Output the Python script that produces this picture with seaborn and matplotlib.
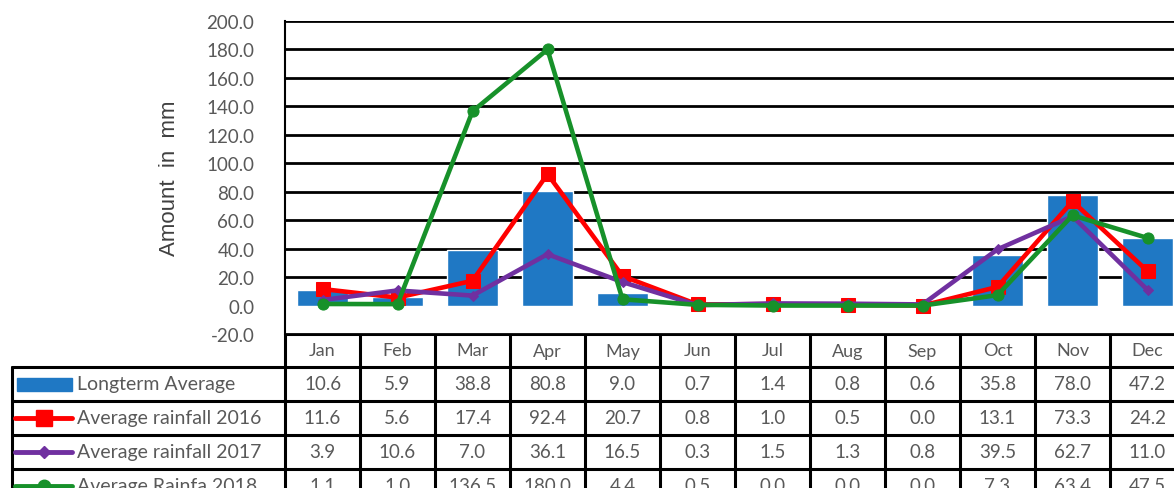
import numpy as np
import pandas as pd
import matplotlib
matplotlib.use("Agg")
import matplotlib.pyplot as plt
from matplotlib.ticker import MultipleLocator
from matplotlib.lines import Line2D
from matplotlib.patches import Rectangle
import seaborn as sns

# ---- data ----
months = ["Jan", "Feb", "Mar", "Apr", "May", "Jun", "Jul", "Aug", "Sep", "Oct", "Nov", "Dec"]
longterm = [10.6, 5.9, 38.8, 80.8, 9.0, 0.7, 1.4, 0.8, 0.6, 35.8, 78.0, 47.2]
rain_2016 = [11.6, 5.6, 17.4, 92.4, 20.7, 0.8, 1.0, 0.5, 0.0, 13.1, 73.3, 24.2]
rain_2017 = [3.9, 10.6, 7.0, 36.1, 16.5, 0.3, 1.5, 1.3, 0.8, 39.5, 62.7, 11.0]
rain_2018 = [1.1, 1.0, 136.5, 180.0, 4.4, 0.5, 0.0, 0.0, 0.0, 7.3, 63.4, 47.5]
series_names = ["Longterm Average", "Average rainfall 2016",
                "Average rainfall 2017", "Average Rainfa 2018"]
y_ticks = [-20, 0, 20, 40, 60, 80, 100, 120, 140, 160, 180, 200]

df = pd.DataFrame({
    "pos": np.arange(len(months)),
    "month": months,
    "longterm": longterm,
    "r2016": rain_2016,
    "r2017": rain_2017,
    "r2018": rain_2018,
})

BLUE = "#1f78c4"
RED = "#ff0000"
PURPLE = "#7030a0"
GREEN = "#17912a"
GREY_TXT = "#595959"

sns.set_style("white")
plt.rcParams["font.family"] = ["Lato", "DejaVu Sans"]

W, H = 1174, 489
fig = plt.figure(figsize=(W / 100, H / 100), dpi=100)

# plot area in pixel terms
left_px, right_px, top_px, bot_px = 285, 1185, 22, 335
ax = fig.add_axes([left_px / W, 1 - bot_px / H,
                   (right_px - left_px) / W, (bot_px - top_px) / H])

sns.barplot(data=df, x="pos", y="longterm", native_scale=True, width=0.67,
            color=BLUE, saturation=1, ax=ax, zorder=3)

line_specs = [
    ("r2016", RED, "s", 10),
    ("r2017", PURPLE, "D", 5),
    ("r2018", GREEN, "o", 8),
]
for col, c, mk, ms in line_specs:
    sns.lineplot(data=df, x="pos", y=col, color=c, marker=mk, markersize=ms,
                 markeredgecolor=c, linewidth=3.3, ax=ax, zorder=4)

ax.set_xlim(-0.5, len(months) - 0.5)
ax.set_ylim(-20, 200)
ax.set_yticks(y_ticks)
ax.set_yticklabels([f"{v:.1f}" for v in y_ticks], color=GREY_TXT, fontsize=13.5)
ax.yaxis.set_minor_locator(MultipleLocator(2))
ax.tick_params(axis="y", which="major", direction="in", length=7, width=1.2,
               color="black", pad=22)
ax.tick_params(axis="y", which="minor", direction="in", length=4, width=1,
               color="black")
ax.set_xticks([])
ax.set_xlabel("")
ax.set_ylabel("Amount  in  mm", fontsize=16, color="#404040", labelpad=19,
              family=["Liberation Sans", "DejaVu Sans"])

for yv in y_ticks[2:]:
    ax.axhline(yv, color="black", linewidth=2, zorder=1)

for side in ["top", "right"]:
    ax.spines[side].set_visible(False)
ax.spines["left"].set_color("black")
ax.spines["left"].set_linewidth(1.5)
ax.spines["bottom"].set_color("black")
ax.spines["bottom"].set_linewidth(2)

# ---- data table below the plot, drawn in pixel coordinates ----
tb_top, tb_bot = 335, 505
tax = fig.add_axes([0, 1 - tb_bot / H, right_px / W, (tb_bot - tb_top) / H])
tax.set_xlim(0, right_px)
tax.set_ylim(tb_bot, tb_top)
tax.axis("off")

col_w = (right_px - left_px) / len(months)
row_edges = [335, 368, 402, 436, 470, 504]
label_left = 12
lw = 2.2

# horizontal rules
tax.plot([left_px, right_px], [row_edges[0]] * 2, color="black", lw=lw)
for yy in row_edges[1:]:
    tax.plot([label_left, right_px], [yy, yy], color="black", lw=lw)
# vertical rules
tax.plot([label_left, label_left], [row_edges[1], row_edges[-1]], color="black", lw=lw)
for i in range(len(months) + 1):
    xx = left_px + i * col_w
    tax.plot([xx, xx], [row_edges[0], row_edges[-1]], color="black", lw=lw)

def mid(i):
    return (row_edges[i] + row_edges[i + 1]) / 2

# header
for i, m in enumerate(months):
    tax.text(left_px + (i + 0.5) * col_w, mid(0), m, ha="center", va="center",
             fontsize=13, color=GREY_TXT)

rows = [longterm, rain_2016, rain_2017, rain_2018]
for r, vals in enumerate(rows):
    yc = mid(r + 1)
    for i, v in enumerate(vals):
        tax.text(left_px + (i + 0.5) * col_w, yc, f"{v:.1f}", ha="center",
                 va="center", fontsize=13.5, color=GREY_TXT)
    tax.text(77, yc, series_names[r], ha="left", va="center", fontsize=14,
             color=GREY_TXT)

# legend keys in the label column
tax.add_patch(Rectangle((17, mid(1) - 6.5), 55, 13, color=BLUE))
for r, (col, c, mk, ms) in enumerate(line_specs):
    yc = mid(r + 2)
    tax.add_line(Line2D([15, 72], [yc, yc], color=c, lw=3.5))
    tax.add_line(Line2D([43.5], [yc], color=c, marker=mk, markersize=ms + 1,
                        markeredgecolor=c))

fig.savefig("out.png", dpi=100)
